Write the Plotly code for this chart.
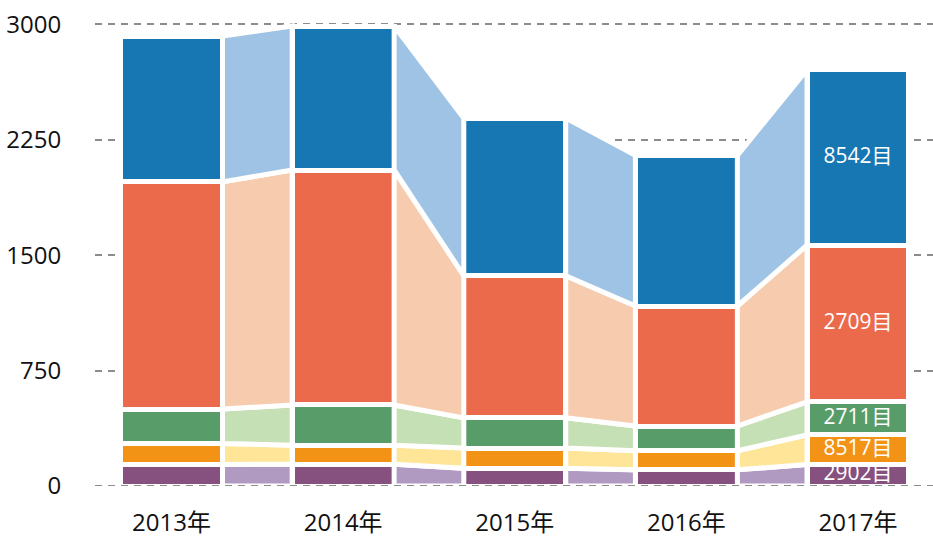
import numpy as np
import plotly.graph_objects as go

# Categories and series (stacked bottom -> top)
years = ["2013年", "2014年", "2015年", "2016年", "2017年"]
series_names = ["2902目", "8517目", "2711目", "2709目", "8542目"]
v_2902 = [140, 142, 115, 105, 140]
v_8517 = [136, 123, 132, 124, 192]
v_2711 = [224, 262, 196, 161, 215]
v_2709 = [1477, 1527, 924, 780, 1019]
v_8542 = [948, 936, 1024, 979, 1140]
y_ticks = [0, 750, 1500, 2250, 3000]

series_values = [v_2902, v_8517, v_2711, v_2709, v_8542]
bar_colors = ["#86507f", "#f39316", "#589c6a", "#ec6a4c", "#1677b3"]
band_colors = ["#b09ac2", "#fee598", "#c6e0b5", "#f7cbae", "#9fc3e5"]

FONT = "Open Sans, Noto Sans CJK SC, sans-serif"
BAR_W = 0.594
GAP_LINE = 5

x = np.arange(len(years), dtype=float)
vals = np.array(series_values, dtype=float)
tops = np.cumsum(vals, axis=0)
bottoms = tops - vals

fig = go.Figure()

# Connecting bands between neighbouring bars
for k in range(len(series_names)):
    for i in range(len(years) - 1):
        xa = x[i] + BAR_W / 2
        xb = x[i + 1] - BAR_W / 2
        fig.add_trace(go.Scatter(
            x=[xa, xa, xb, xb, xa],
            y=[bottoms[k, i], tops[k, i], tops[k, i + 1], bottoms[k, i + 1], bottoms[k, i]],
            mode="lines", fill="toself", fillcolor=band_colors[k],
            line=dict(color="white", width=GAP_LINE),
            hoverinfo="skip", showlegend=False,
        ))

# Stacked bars
for k, name in enumerate(series_names):
    fig.add_trace(go.Bar(
        x=x, y=vals[k], name=name, width=BAR_W,
        marker=dict(color=bar_colors[k], line=dict(color="white", width=GAP_LINE)),
        showlegend=False,
    ))

# Series labels on the last bar
last = len(years) - 1
fig.add_trace(go.Scatter(
    x=[x[last]] * len(series_names),
    y=(bottoms[:, last] + tops[:, last]) / 2,
    text=series_names, mode="text",
    textfont=dict(color="white", size=21, family=FONT),
    cliponaxis=True, hoverinfo="skip", showlegend=False,
))

# Dashed baseline
fig.add_shape(type="line", xref="paper", x0=0, x1=1, yref="y", y0=0, y1=0,
              line=dict(color="#8c8c8c", width=2, dash="7px,6px"), layer="above")

fig.update_layout(
    width=933, height=537,
    margin=dict(l=95, r=0, t=10, b=51),
    barmode="stack",
    plot_bgcolor="white", paper_bgcolor="white",
    font=dict(family=FONT, color="#111111"),
    xaxis=dict(
        range=[-0.446, 4.437], tickvals=x, ticktext=years,
        showgrid=False, zeroline=False, showline=False,
        ticks="outside", ticklen=15, tickcolor="rgba(0,0,0,0)",
        tickfont=dict(size=24, family=FONT, color="#111111"),
    ),
    yaxis=dict(
        range=[0, 3094], tickvals=y_ticks,
        showgrid=True, gridcolor="#8c8c8c", gridwidth=1.5, griddash="7px,6px",
        zeroline=False, showline=False,
        ticks="outside", ticklen=28, tickcolor="rgba(0,0,0,0)",
        tickfont=dict(size=24, family=FONT, color="#111111"),
    ),
)

fig.write_html("out.html")
